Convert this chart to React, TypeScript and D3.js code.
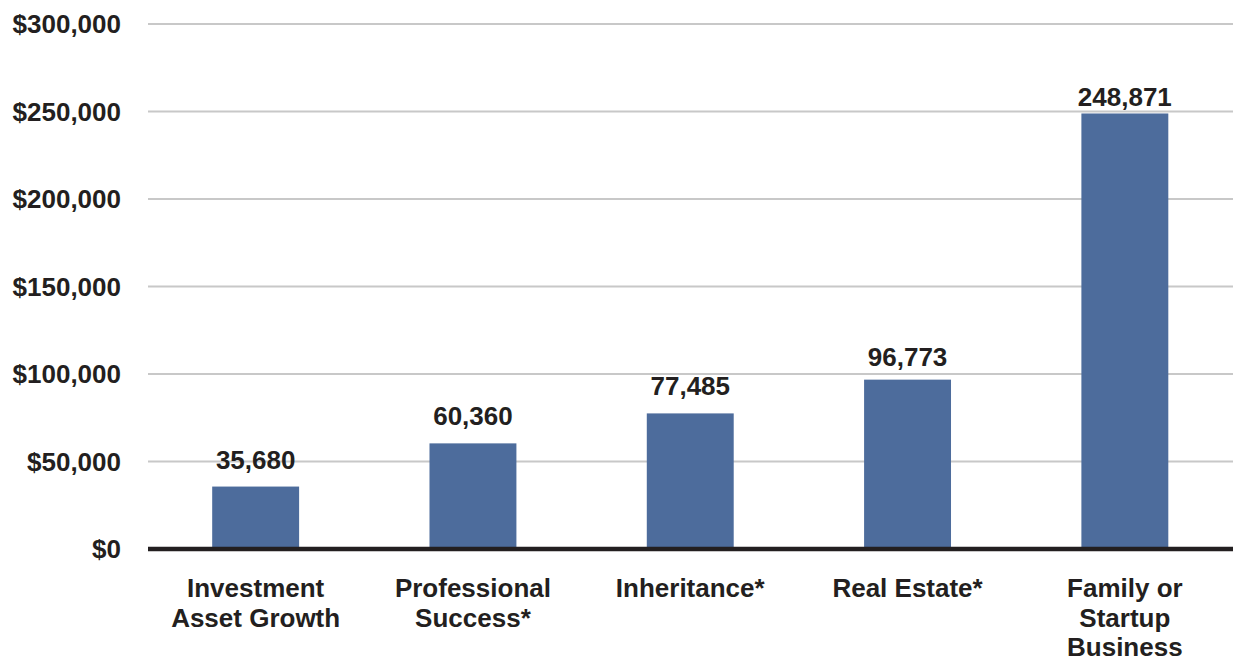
import React from "react";
import * as d3 from "d3";

const categories: string[][] = [
  ["Investment", "Asset Growth"],
  ["Professional", "Success*"],
  ["Inheritance*"],
  ["Real Estate*"],
  ["Family or", "Startup", "Business"],
];
const values: number[] = [35680, 60360, 77485, 96773, 248871];
const yTicks: number[] = [0, 50000, 100000, 150000, 200000, 250000, 300000];
const labelGaps: number[] = [18, 18, 18, 14, 7];

const W = 1233;
const H = 662;
const FONT = "'Liberation Sans', Arial, sans-serif";
const TEXT = "#231f20";

export default function App() {
  const x = d3
    .scaleBand<number>()
    .domain(values.map((_, i) => i))
    .range([147, 1233.5])
    .paddingInner(0.6)
    .paddingOuter(0.3);
  const y = d3.scaleLinear().domain([0, 300000]).range([549, 24]);
  const fmtY = (v: number) => "$" + d3.format(",")(v);
  const fmtV = d3.format(",");

  return (
    <svg
      width={W}
      height={H}
      style={{ position: "fixed", left: 0, top: 0, background: "#fff" }}
      fontFamily={FONT}
      fontWeight="bold"
    >
      {yTicks.map((t) => (
        <g key={t}>
          {t > 0 && (
            <line x1={148} x2={1233} y1={y(t)} y2={y(t)} stroke="#c8c8c8" strokeWidth={2} />
          )}
          <text x={121} y={y(t) + 9} textAnchor="end" fontSize={26} fill={TEXT}>
            {fmtY(t)}
          </text>
        </g>
      ))}
      {values.map((v, i) => (
        <rect
          key={i}
          x={x(i)}
          y={y(v)}
          width={x.bandwidth()}
          height={y(0) - y(v)}
          fill="#4d6c9c"
        />
      ))}
      <line x1={148} x2={1233} y1={y(0)} y2={y(0)} stroke={TEXT} strokeWidth={4.5} />
      {values.map((v, i) => (
        <text
          key={i}
          x={(x(i) as number) + x.bandwidth() / 2}
          y={y(v) - labelGaps[i]}
          textAnchor="middle"
          fontSize={26}
          fill={TEXT}
        >
          {fmtV(v)}
        </text>
      ))}
      {categories.map((lines, i) => (
        <text
          key={i}
          x={(x(i) as number) + x.bandwidth() / 2}
          y={597}
          textAnchor="middle"
          fontSize={26}
          fill={TEXT}
        >
          {lines.map((l, j) => (
            <tspan key={j} x={(x(i) as number) + x.bandwidth() / 2} dy={j === 0 ? 0 : 29.5}>
              {l}
            </tspan>
          ))}
        </text>
      ))}
    </svg>
  );
}
